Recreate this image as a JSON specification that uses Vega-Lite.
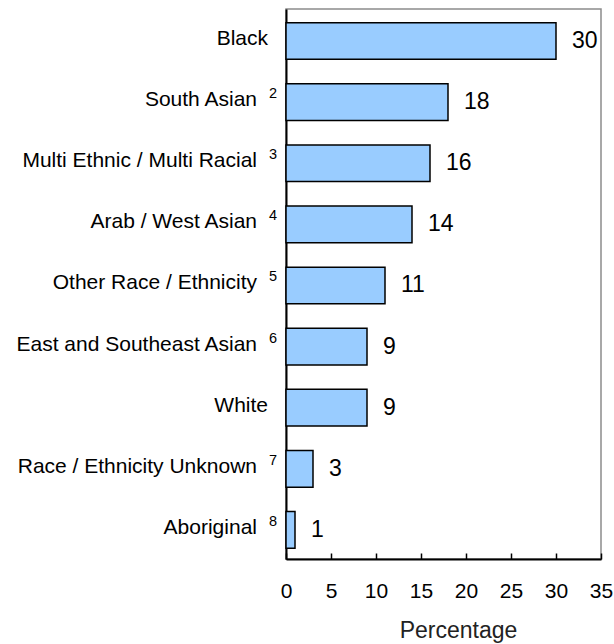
{
  "$schema": "https://vega.github.io/schema/vega-lite/v6.json",
  "autosize": "none",
  "width": 315,
  "height": 550,
  "padding": {"left": 286, "top": 9, "right": 13, "bottom": 85},
  "background": "white",
  "config": {
    "view": {"stroke": "#8c8c8c", "strokeWidth": 1.5},
    "font": "Liberation Sans"
  },
  "data": {
    "values": [
      {"group": "Black", "sup": "", "pct": 30},
      {"group": "South Asian", "sup": "2", "pct": 18},
      {"group": "Multi Ethnic / Multi Racial", "sup": "3", "pct": 16},
      {"group": "Arab / West Asian", "sup": "4", "pct": 14},
      {"group": "Other Race / Ethnicity", "sup": "5", "pct": 11},
      {"group": "East and Southeast Asian", "sup": "6", "pct": 9},
      {"group": "White", "sup": "", "pct": 9},
      {"group": "Race / Ethnicity Unknown", "sup": "7", "pct": 3},
      {"group": "Aboriginal", "sup": "8", "pct": 1}
    ]
  },
  "encoding": {
    "y": {
      "field": "group",
      "type": "nominal",
      "sort": null,
      "scale": {"paddingInner": 0.4, "paddingOuter": 0.2, "align": 0.56},
      "axis": {
        "title": null,
        "ticks": false,
        "labels": false,
        "domainColor": "black",
        "domainWidth": 2
      }
    }
  },
  "layer": [
    {
      "mark": {"type": "bar", "fill": "#99ccff", "stroke": "black", "strokeWidth": 1.5},
      "encoding": {
        "x": {
          "field": "pct",
          "type": "quantitative",
          "scale": {"domain": [0, 35], "nice": false},
          "axis": {
            "values": [0, 5, 10, 15, 20, 25, 30, 35],
            "grid": false,
            "domainColor": "black",
            "domainWidth": 2,
            "tickColor": "black",
            "tickWidth": 1.5,
            "tickSize": -6,
            "labelFont": "Liberation Sans",
            "labelFontSize": 21,
            "labelColor": "black",
            "labelBaseline": "alphabetic",
            "labelPadding": 44,
            "labelFlush": false,
            "title": "Percentage",
            "titleFont": "Liberation Sans",
            "titleFontSize": 23,
            "titleFontWeight": "normal",
            "titleColor": "#222222",
            "titleBaseline": "alphabetic",
            "titleY": 78,
            "titleX": 172
          }
        }
      }
    },
    {
      "transform": [{"filter": "datum.sup == ''"}],
      "mark": {"type": "text", "align": "right", "baseline": "middle", "dx": -18, "dy": -2, "font": "Liberation Sans", "fontSize": 21, "color": "black"},
      "encoding": {
        "x": {"datum": 0, "type": "quantitative"},
        "text": {"field": "group", "type": "nominal"}
      }
    },
    {
      "transform": [{"filter": "datum.sup != ''"}],
      "mark": {"type": "text", "align": "right", "baseline": "middle", "dx": -29, "dy": -2, "font": "Liberation Sans", "fontSize": 21, "color": "black"},
      "encoding": {
        "x": {"datum": 0, "type": "quantitative"},
        "text": {"field": "group", "type": "nominal"}
      }
    },
    {
      "mark": {"type": "text", "align": "right", "baseline": "alphabetic", "dx": -9, "dy": -4, "font": "Liberation Sans", "fontSize": 14.5, "color": "black"},
      "encoding": {
        "x": {"datum": 0, "type": "quantitative"},
        "text": {"field": "sup", "type": "nominal"}
      }
    },
    {
      "mark": {"type": "text", "align": "left", "baseline": "middle", "dx": 16, "font": "Liberation Sans", "fontSize": 23, "color": "black"},
      "encoding": {
        "x": {"field": "pct", "type": "quantitative"},
        "text": {"field": "pct", "type": "quantitative"}
      }
    }
  ]
}
